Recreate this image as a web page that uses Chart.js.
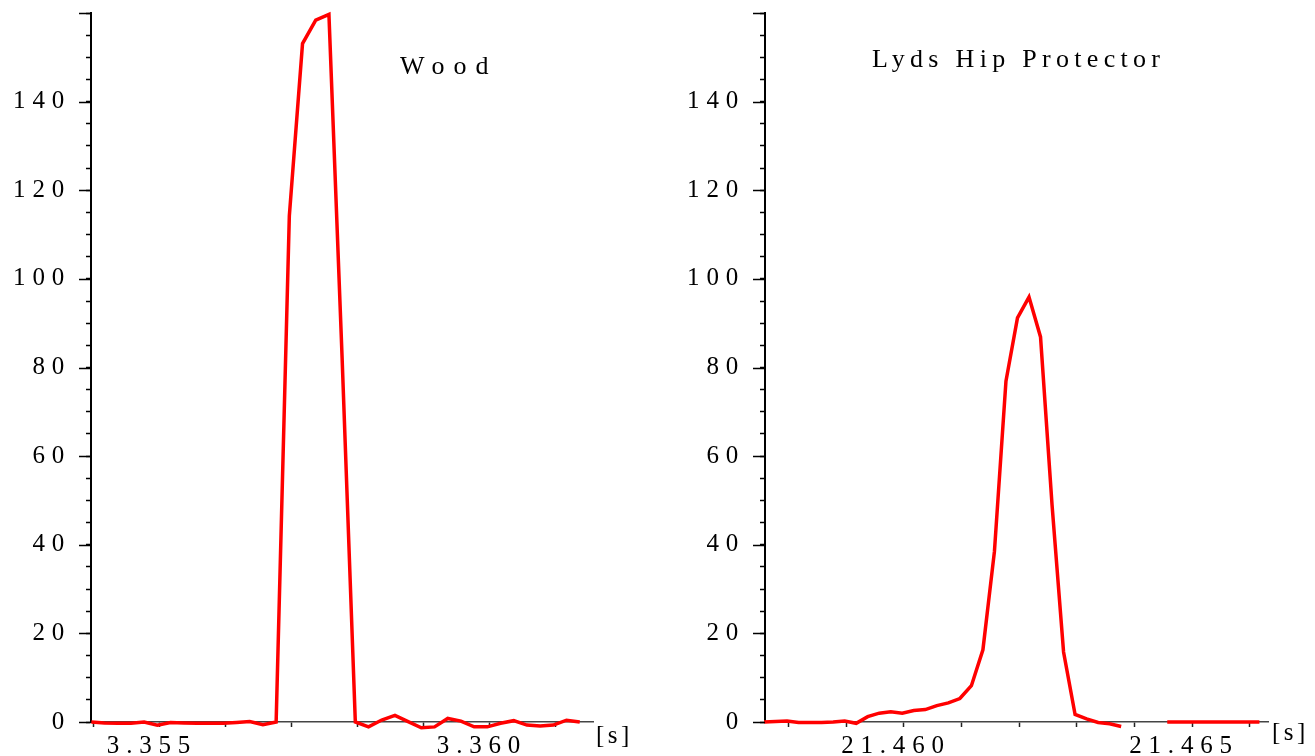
<!DOCTYPE html>
<html><head><meta charset="utf-8">
<script src="https://cdn.jsdelivr.net/npm/chart.js@4.4.1/dist/chart.umd.min.js"></script>
<style>
html,body{margin:0;padding:0;background:#fff;width:1315px;height:756px;overflow:hidden}
canvas{position:absolute;top:0}
#c1{left:0px}
#c2{left:657px}
</style></head><body>
<canvas id="c1" width="657" height="756"></canvas>
<canvas id="c2" width="658" height="756"></canvas>
<script>
// ---------- DATA ----------
const woodTitle = 'Wood';
const hipTitle = 'Lyds Hip Protector';
const unitLabel = '[s]';

const woodTimes = [3.35396, 3.35416, 3.35436, 3.35456, 3.35476, 3.35496, 3.35516, 3.35536, 3.35556, 3.35576,
  3.35596, 3.35616, 3.35636, 3.35656, 3.35676, 3.35696, 3.35716, 3.35736, 3.35756, 3.35776,
  3.35796, 3.35816, 3.35836, 3.35856, 3.35876, 3.35896, 3.35916, 3.35936, 3.35956, 3.35976,
  3.35996, 3.36016, 3.36036, 3.36056, 3.36076, 3.36096, 3.36116, 3.36136];
const woodForce = [0, -0.2, -0.3, -0.3, 0, -0.7, -0.1, -0.2, -0.3, -0.3,
  -0.3, -0.1, 0.1, -0.6, 0, 114.2, 153.1, 158.4, 159.7, 82,
  0, -1.1, 0.45, 1.5, 0.1, -1.3, -1.1, 0.8, 0.2, -1.1,
  -1.1, -0.3, 0.3, -0.7, -0.9, -0.7, 0.4, 0];

const hipTimes = [21.45757, 21.45777, 21.45797, 21.45817, 21.45837, 21.45857, 21.45877, 21.45897, 21.45917, 21.45937,
  21.45957, 21.45977, 21.45997, 21.46017, 21.46037, 21.46057, 21.46077, 21.46097, 21.46117, 21.46137,
  21.46157, 21.46177, 21.46197, 21.46217, 21.46237, 21.46257, 21.46277, 21.46297, 21.46317, 21.46337,
  21.46357, 21.46377, 21.46397, 21.46417, 21.46437, 21.46457, 21.46477, 21.46497, 21.46517, 21.46537,
  21.46557, 21.46577, 21.46597, 21.46617];
const hipForce = [0, 0.1, 0.25, -0.1, -0.1, -0.1, 0, 0.2, -0.3, 1.2,
  2.0, 2.3, 2.0, 2.6, 2.8, 3.7, 4.3, 5.3, 8.2, 16.3,
  38.5, 76.9, 91.2, 95.9, 86.9, 49, 15.8, 1.7, 0.7, -0.1,
  -0.4, -1.0, null, null, null, 0, 0, 0, 0, 0,
  0, 0, 0, 0];

const yLabelValues = [0, 20, 40, 60, 80, 100, 120, 140];
const yMajorTicks = [0, 20, 40, 60, 80, 100, 120, 140, 160];
const woodXLabels = ['3.355', '3.360'];
const hipXLabels = ['21.460', '21.465'];

// ---------- CHART ----------
const FONT = "'Liberation Serif', 'Times New Roman', serif";
const LS = '6.8px';

function setSpacing(chart){ chart.ctx.letterSpacing = LS; }

function makeChart(id, cfg){
  const decor = {
    id: 'decor',
    beforeUpdate: setSpacing,
    beforeLayout: setSpacing,
    beforeDraw: setSpacing,
    afterDraw(chart){
      const ctx = chart.ctx, a = chart.chartArea, ys = chart.scales.y;
      ctx.save();
      // long major ticks on the y axis
      ctx.strokeStyle = '#000';
      ctx.lineWidth = 1.5;
      ctx.beginPath();
      for (const v of yMajorTicks){
        const p = Math.round(ys.getPixelForValue(v)) + 0.5;
        ctx.moveTo(a.left - 12, p);
        ctx.lineTo(a.left, p);
      }
      ctx.stroke();
      // panel title
      ctx.fillStyle = '#000';
      ctx.font = '26px ' + FONT;
      ctx.letterSpacing = cfg.titleSpacing;
      ctx.textAlign = 'left';
      ctx.textBaseline = 'middle';
      ctx.fillText(cfg.title, a.left + cfg.titleX * (a.right - a.left), a.top + cfg.titleY * (a.bottom - a.top));
      // unit label
      ctx.font = '25px ' + FONT;
      ctx.letterSpacing = '3.5px';
      ctx.fillText(unitLabel, a.right + cfg.unitDx, a.bottom + cfg.unitDy);
      ctx.restore();
    }
  };
  return new Chart(document.getElementById(id), {
    type: 'line',
    data: {
      datasets: [{
        data: cfg.times.map((t, i) => ({x: t, y: cfg.values[i]})),
        borderColor: '#ff0000',
        borderWidth: 3.5,
        pointRadius: 0,
        tension: 0,
        spanGaps: false,
        fill: false,
        clip: 12
      }]
    },
    options: {
      responsive: false,
      animation: false,
      events: [],
      layout: {padding: {left: 0, right: cfg.padRight, top: 13, bottom: 0}},
      plugins: {legend: {display: false}, tooltip: {enabled: false}, title: {display: false}},
      scales: {
        x: {
          type: 'linear',
          min: cfg.xMin, max: cfg.xMax,
          afterFit(s){ s.height = 34; s.paddingLeft = 0; s.paddingRight = 0; },
          border: {display: true, color: '#444', width: 1.5},
          grid: {drawOnChartArea: false, drawTicks: true, tickLength: 5, tickColor: '#222', tickWidth: 1.5},
          ticks: {
            stepSize: 0.001, includeBounds: false, autoSkip: false, maxRotation: 0,
            padding: 4, labelOffset: -8, color: '#000',
            font: {family: FONT, size: 25},
            callback(v){ const s = Number(v).toFixed(3); return cfg.xLabels.includes(s) ? s : ''; }
          }
        },
        y: {
          type: 'linear',
          min: 0, max: 160,
          afterFit(s){ s.width = cfg.yWidth; s.paddingTop = 0; s.paddingBottom = 0; },
          border: {display: true, color: '#000', width: 2},
          grid: {drawOnChartArea: false, drawTicks: true, tickLength: 5, tickColor: '#000', tickWidth: 1.5},
          ticks: {
            stepSize: 5, autoSkip: false, padding: 15, color: '#000',
            font: {family: FONT, size: 25},
            callback(v){ return yLabelValues.includes(v) ? String(v) : ''; }
          }
        }
      }
    },
    plugins: [decor]
  });
}

makeChart('c1', {
  times: woodTimes, values: woodForce, xLabels: woodXLabels,
  xMin: 3.353955, xMax: 3.361561, padRight: 64, yWidth: 91,
  title: woodTitle, titleX: 0.6155, titleY: 0.076, titleSpacing: '9px',
  unitDx: 3, unitDy: 14
});
makeChart('c2', {
  times: hipTimes, values: hipForce, xLabels: hipXLabels,
  xMin: 21.457587, xMax: 21.466319, padRight: 47, yWidth: 108,
  title: hipTitle, titleX: 0.2127, titleY: 0.066, titleSpacing: '5.3px',
  unitDx: 4, unitDy: 11
});
</script>
</body></html>
